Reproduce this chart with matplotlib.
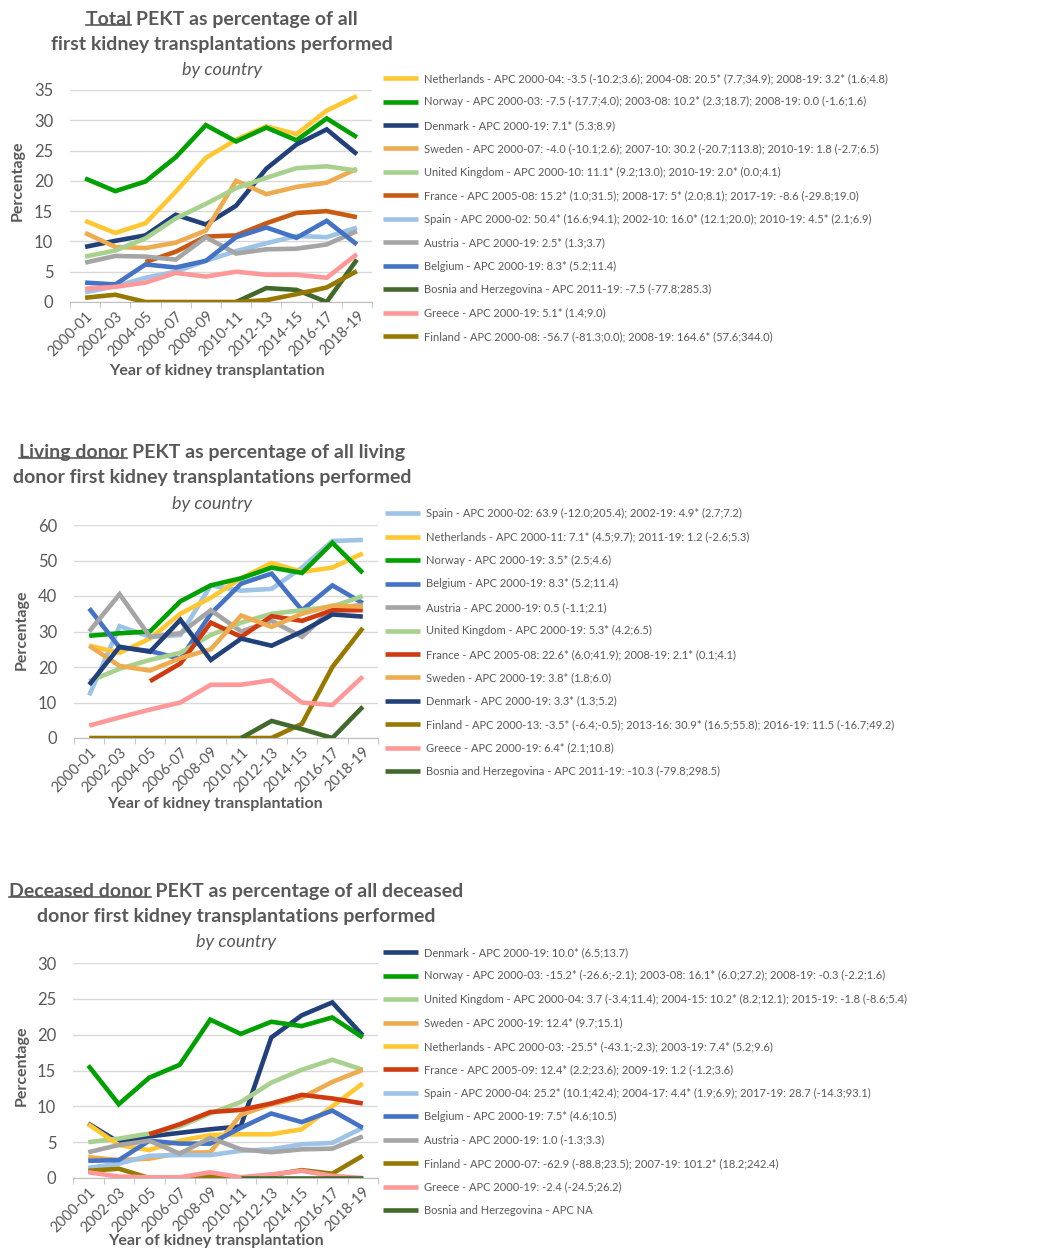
import matplotlib
matplotlib.use('Agg')
import matplotlib.pyplot as plt
import numpy as np
from matplotlib.lines import Line2D

nan = np.nan
periods = ['2000-01', '2002-03', '2004-05', '2006-07', '2008-09',
           '2010-11', '2012-13', '2014-15', '2016-17', '2018-19']

colors = {
    'Netherlands': '#FFC832', 'Norway': '#00A000', 'Denmark': '#22407A',
    'Sweden': '#EEAC50', 'United Kingdom': '#A9D18E', 'France': '#C85A14',
    'Spain': '#9DC3E6', 'Austria': '#A5A5A5', 'Belgium': '#4472C4',
    'Bosnia and Herzegovina': '#43682B', 'Greece': '#FF9999', 'Finland': '#977800',
}

# ---- Total PEKT
tot_nl = [13.4, 11.4, 13.0, 18.2, 23.8, 26.8, 29.0, 27.7, 31.6, 34.0]
tot_no = [20.4, 18.3, 19.9, 23.9, 29.2, 26.5, 28.8, 26.7, 30.3, 27.2]
tot_dk = [9.1, 10.1, 11.0, 14.4, 12.8, 15.9, 22.0, 26.0, 28.5, 24.4]
tot_se = [11.4, 9.1, 8.9, 9.8, 11.8, 20.0, 17.8, 19.0, 19.7, 22.0]
tot_uk = [7.5, 8.5, 10.5, 13.8, 16.2, 18.8, 20.5, 22.1, 22.4, 21.7]
tot_fr = [nan, nan, 6.6, 8.3, 10.8, 11.0, 13.0, 14.7, 15.0, 14.0]
tot_es = [1.6, 2.6, 4.0, 5.0, 6.8, 8.4, 9.7, 10.9, 10.7, 12.3]
tot_at = [6.5, 7.6, 7.5, 7.0, 10.7, 8.0, 8.7, 8.8, 9.5, 11.7]
tot_be = [3.2, 2.9, 6.2, 5.7, 6.8, 10.7, 12.3, 10.6, 13.4, 9.5]
tot_ba = [nan, nan, nan, nan, nan, 0.0, 2.3, 2.0, 0.0, 7.0]
tot_gr = [2.2, 2.5, 3.2, 4.8, 4.2, 5.0, 4.5, 4.5, 4.0, 7.9]
tot_fi = [0.7, 1.2, 0.0, 0.0, 0.0, 0.0, 0.3, 1.3, 2.4, 5.1]

# ---- Living donor PEKT
liv_es = [12.0, 31.5, 28.5, 29.0, 43.0, 41.5, 42.0, 48.0, 55.5, 55.8]
liv_nl = [26.0, 24.0, 28.0, 35.0, 39.5, 45.0, 49.3, 46.8, 48.0, 52.0]
liv_no = [28.8, 29.5, 30.0, 38.5, 43.0, 45.0, 48.0, 46.5, 55.0, 46.5]
liv_be = [36.5, 25.5, 24.5, 22.3, 35.0, 43.5, 46.3, 36.0, 43.0, 38.0]
liv_at = [30.0, 40.5, 28.5, 29.5, 36.0, 30.0, 33.0, 28.5, 36.5, 37.5]
liv_uk = [16.0, 19.5, 22.0, 24.0, 29.0, 32.5, 35.0, 36.0, 37.0, 40.0]
liv_fr = [nan, nan, 16.0, 21.0, 32.5, 28.5, 34.3, 33.0, 36.0, 36.0]
liv_se = [26.0, 20.3, 19.0, 22.5, 25.0, 34.5, 31.3, 35.0, 37.3, 37.0]
liv_dk = [15.0, 25.7, 24.3, 33.3, 22.0, 28.0, 26.0, 30.0, 34.8, 34.2]
liv_fi = [0.0, 0.0, 0.0, 0.0, 0.0, 0.0, 0.0, 4.0, 20.0, 31.0]
liv_gr = [3.5, 5.8, 8.0, 10.0, 15.0, 15.0, 16.3, 10.0, 9.3, 17.3]
liv_ba = [nan, nan, nan, nan, nan, 0.0, 4.8, 2.5, 0.0, 8.8]

# ---- Deceased donor PEKT
dec_dk = [7.6, 5.0, 5.8, 6.3, 6.8, 7.2, 19.6, 22.7, 24.5, 19.9]
dec_no = [15.7, 10.3, 14.0, 15.8, 22.1, 20.1, 21.8, 21.2, 22.4, 19.6]
dec_uk = [5.0, 5.5, 6.2, 7.2, 9.0, 10.6, 13.3, 15.1, 16.5, 15.1]
dec_se = [2.9, 2.5, 2.7, 3.5, 3.6, 8.8, 10.3, 11.2, 13.4, 15.1]
dec_nl = [7.5, 4.6, 3.9, 5.2, 6.0, 6.1, 6.1, 6.8, 10.0, 13.2]
dec_fr = [nan, nan, 6.1, 7.5, 9.2, 9.5, 10.4, 11.6, 11.1, 10.4]
dec_es = [1.4, 2.0, 3.1, 3.2, 3.2, 3.8, 4.0, 4.7, 4.9, 7.0]
dec_be = [2.4, 2.5, 5.2, 4.8, 4.8, 7.0, 9.0, 7.8, 9.4, 7.0]
dec_at = [3.6, 4.6, 5.2, 3.4, 5.6, 4.0, 3.6, 4.0, 4.1, 5.8]
dec_fi = [1.0, 1.3, 0.0, 0.0, 0.2, 0.0, 0.4, 1.1, 0.6, 3.1]
dec_gr = [0.8, 0.2, 0.1, 0.1, 0.8, 0.1, 0.5, 1.0, 0.3, 0.0]
dec_ba = [nan, nan, nan, nan, nan, 0.0, 0.0, 0.0, 0.0, 0.0]

tot_series = [
    ('Netherlands', tot_nl, 'Netherlands - APC 2000-04: -3.5 (-10.2;3.6); 2004-08: 20.5* (7.7;34.9); 2008-19: 3.2* (1.6;4.8)'),
    ('Norway', tot_no, 'Norway - APC 2000-03: -7.5 (-17.7;4.0); 2003-08: 10.2* (2.3;18.7); 2008-19: 0.0 (-1.6;1.6)'),
    ('Denmark', tot_dk, 'Denmark - APC 2000-19: 7.1* (5.3;8.9)'),
    ('Sweden', tot_se, 'Sweden - APC 2000-07: -4.0 (-10.1;2.6); 2007-10: 30.2 (-20.7;113.8); 2010-19: 1.8 (-2.7;6.5)'),
    ('United Kingdom', tot_uk, 'United Kingdom - APC 2000-10: 11.1* (9.2;13.0); 2010-19: 2.0* (0.0;4.1)'),
    ('France', tot_fr, 'France - APC 2005-08: 15.2* (1.0;31.5); 2008-17: 5* (2.0;8.1); 2017-19: -8.6 (-29.8;19.0)'),
    ('Spain', tot_es, 'Spain - APC 2000-02: 50.4* (16.6;94.1); 2002-10: 16.0* (12.1;20.0); 2010-19: 4.5* (2.1;6.9)'),
    ('Austria', tot_at, 'Austria - APC 2000-19: 2.5* (1.3;3.7)'),
    ('Belgium', tot_be, 'Belgium - APC 2000-19: 8.3* (5.2;11.4)'),
    ('Bosnia and Herzegovina', tot_ba, 'Bosnia and Herzegovina - APC 2011-19: -7.5 (-77.8;285.3)'),
    ('Greece', tot_gr, 'Greece - APC 2000-19: 5.1* (1.4;9.0)'),
    ('Finland', tot_fi, 'Finland - APC 2000-08: -56.7 (-81.3;0.0); 2008-19: 164.6* (57.6;344.0)'),
]
liv_series = [
    ('Spain', liv_es, 'Spain - APC 2000-02: 63.9 (-12.0;205.4); 2002-19: 4.9* (2.7;7.2)'),
    ('Netherlands', liv_nl, 'Netherlands - APC 2000-11: 7.1* (4.5;9.7); 2011-19: 1.2 (-2.6;5.3)'),
    ('Norway', liv_no, 'Norway - APC 2000-19: 3.5* (2.5;4.6)'),
    ('Belgium', liv_be, 'Belgium - APC 2000-19: 8.3* (5.2;11.4)'),
    ('Austria', liv_at, 'Austria - APC 2000-19: 0.5 (-1.1;2.1)'),
    ('United Kingdom', liv_uk, 'United Kingdom - APC 2000-19: 5.3* (4.2;6.5)'),
    ('France', liv_fr, 'France - APC 2005-08: 22.6* (6.0;41.9); 2008-19: 2.1* (0.1;4.1)'),
    ('Sweden', liv_se, 'Sweden - APC 2000-19: 3.8* (1.8;6.0)'),
    ('Denmark', liv_dk, 'Denmark - APC 2000-19: 3.3* (1.3;5.2)'),
    ('Finland', liv_fi, 'Finland - APC 2000-13: -3.5* (-6.4;-0.5); 2013-16: 30.9* (16.5;55.8); 2016-19: 11.5 (-16.7;49.2)'),
    ('Greece', liv_gr, 'Greece - APC 2000-19: 6.4* (2.1;10.8)'),
    ('Bosnia and Herzegovina', liv_ba, 'Bosnia and Herzegovina - APC 2011-19: -10.3 (-79.8;298.5)'),
]
dec_series = [
    ('Denmark', dec_dk, 'Denmark - APC 2000-19: 10.0* (6.5;13.7)'),
    ('Norway', dec_no, 'Norway - APC 2000-03: -15.2* (-26.6;-2.1); 2003-08: 16.1* (6.0;27.2); 2008-19: -0.3 (-2.2;1.6)'),
    ('United Kingdom', dec_uk, 'United Kingdom - APC 2000-04: 3.7 (-3.4;11.4); 2004-15: 10.2* (8.2;12.1); 2015-19: -1.8 (-8.6;5.4)'),
    ('Sweden', dec_se, 'Sweden - APC 2000-19: 12.4* (9.7;15.1)'),
    ('Netherlands', dec_nl, 'Netherlands - APC 2000-03: -25.5* (-43.1;-2.3); 2003-19: 7.4* (5.2;9.6)'),
    ('France', dec_fr, 'France - APC 2005-09: 12.4* (2.2;23.6); 2009-19: 1.2 (-1.2;3.6)'),
    ('Spain', dec_es, 'Spain - APC 2000-04: 25.2* (10.1;42.4); 2004-17: 4.4* (1.9;6.9); 2017-19: 28.7 (-14.3;93.1)'),
    ('Belgium', dec_be, 'Belgium - APC 2000-19: 7.5* (4.6;10.5)'),
    ('Austria', dec_at, 'Austria - APC 2000-19: 1.0 (-1.3;3.3)'),
    ('Finland', dec_fi, 'Finland - APC 2000-07: -62.9 (-88.8;23.5); 2007-19: 101.2* (18.2;242.4)'),
    ('Greece', dec_gr, 'Greece - APC 2000-19: -2.4 (-24.5;26.2)'),
    ('Bosnia and Herzegovina', dec_ba, 'Bosnia and Herzegovina - APC NA'),
]

W, H = 1053, 1249
GRAY = '#595959'
plt.rcParams['font.family'] = ['Lato', 'DejaVu Sans']

fig = plt.figure(figsize=(W / 100, H / 100), dpi=100)


def fx(px):
    return px / W


def fy(py):
    return 1 - py / H


def panel(box, series, ymax, step, france_col, title_lines, under_word,
          title_cx, title_y, ylab_xy, xlab_xy, leg_xy):
    l, t, r, b = box
    ax = fig.add_axes([fx(l), fy(b), fx(r - l), (b - t) / H])
    x = np.arange(len(periods))
    handles, labels = [], []
    for name, vals, lab in series:
        c = france_col if name == 'France' else colors[name]
        h, = ax.plot(x, vals, color=c, lw=3.3, solid_joinstyle='miter',
                     solid_capstyle='butt', zorder=3)
        handles.append(h)
        labels.append(lab)
    ax.set_xlim(-0.5, len(periods) - 0.5)
    ax.set_ylim(0, ymax)
    ax.set_yticks(np.arange(0, ymax + 1, step))
    ax.grid(axis='y', color='#D9D9D9', lw=1)
    ax.set_axisbelow(True)
    for s in ['left', 'right', 'top']:
        ax.spines[s].set_visible(False)
    ax.spines['bottom'].set_color('#BFBFBF')
    ax.set_xticks(x)
    ax.set_xticklabels(periods, rotation=45, ha='right', rotation_mode='anchor')
    ax.set_xticks(np.arange(-0.5, len(periods)), minor=True)
    ax.tick_params(axis='x', which='major', length=0, pad=5, labelsize=10.5, labelcolor=GRAY)
    ax.tick_params(axis='x', which='minor', length=4, color='#BFBFBF')
    ax.tick_params(axis='y', length=0, pad=12, labelsize=12, labelcolor=GRAY)

    # titles
    bold, rest = title_lines[0]
    line1 = fig.text(fx(title_cx), fy(title_y), bold + rest, ha='center', va='center',
                     fontsize=14, fontweight='bold', color=GRAY)
    fig.text(fx(title_cx), fy(title_y + 25.5), title_lines[1], ha='center', va='center',
             fontsize=14, fontweight='bold', color=GRAY)
    fig.text(fx(title_cx), fy(title_y + 51.5), 'by country', ha='center', va='center',
             fontsize=13, fontstyle='italic', color=GRAY)
    fig.canvas.draw()
    bb = line1.get_window_extent()
    probe = fig.text(bb.x0 / W, fy(title_y), under_word, ha='left', va='center',
                     fontsize=14, fontweight='bold', alpha=0)
    pb = probe.get_window_extent()
    yline = (bb.y0 + 2.5) / H
    fig.add_artist(Line2D([pb.x0 / W, pb.x1 / W], [yline, yline],
                          color=GRAY, lw=1.2, transform=fig.transFigure))

    fig.text(fx(ylab_xy[0]), fy(ylab_xy[1]), 'Percentage', rotation=90, ha='center',
             va='center', fontsize=11.5, fontweight='bold', color=GRAY)
    fig.text(fx(xlab_xy[0]), fy(xlab_xy[1]), 'Year of kidney transplantation', ha='center',
             va='center', fontsize=11.5, fontweight='bold', color=GRAY)

    ax.legend(handles, labels, loc='upper left', bbox_to_anchor=(fx(leg_xy[0]), fy(leg_xy[1])),
              bbox_transform=fig.transFigure, frameon=False, fontsize=8.0,
              handlelength=3.15, handletextpad=0.55, labelspacing=1.12,
              borderpad=0, borderaxespad=0, labelcolor=GRAY)
    return ax


panel((70, 90, 372, 302), tot_series, 35, 5, '#C85A14',
      [('Total', ' PEKT as percentage of all'), 'first kidney transplantations performed'],
      'Total', 222, 19, (18, 181), (217, 371), (383, 73))
panel((74, 525, 378, 738), liv_series, 60, 10, '#D03A10',
      [('Living donor', ' PEKT as percentage of all living'), 'donor first kidney transplantations performed'],
      'Living donor', 212, 452, (22, 630), (215, 804), (385, 508))
panel((73, 963, 378, 1178), dec_series, 30, 5, '#D03A10',
      [('Deceased donor', ' PEKT as percentage of all deceased'), 'donor first kidney transplantations performed'],
      'Deceased donor', 236, 891, (22, 1066), (216, 1241), (383, 947))

fig.savefig('out.png', dpi=100)
